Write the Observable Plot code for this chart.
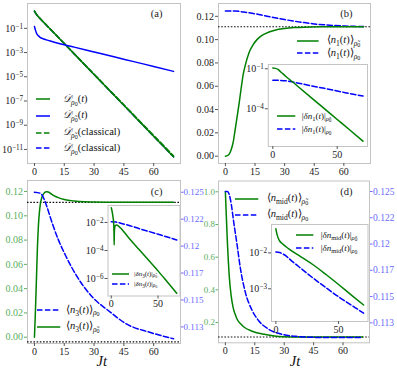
<!DOCTYPE html>
<html><head><meta charset="utf-8">
<script src="https://cdn.jsdelivr.net/npm/d3@7"></script>
<script src="https://cdn.jsdelivr.net/npm/@observablehq/plot@0.6"></script>
<style>
body{margin:0;background:#fff;}
#chart{position:relative;width:397px;height:372px;overflow:hidden;font-family:'Liberation Serif',serif;background:#fff;}
#chart svg.plt{position:absolute;left:0;top:0;}
.leg{position:absolute;white-space:nowrap;line-height:1;color:#111;display:flex;align-items:center;height:16px;}
.leg sub{font-size:0.72em;vertical-align:-0.35em;line-height:0;}
.leg sub sub{font-size:0.8em;vertical-align:-0.2em;}
.lab{position:absolute;white-space:nowrap;color:#111;line-height:1;}
</style></head><body><div id="chart"></div><script>
// ---------------- data ----------------
const xTicksMain = [0, 15, 30, 45, 60];
const xTicksInset = [0, 50];
// (a)
const tA = [0,1,2,5,10,15,20,25,30,35,40,45,50,55,60,65,70];
const dRho0 = [2.63,1.41,0.89,0.275,3.9e-2,5.5e-3,7.8e-4,1.1e-4,1.55e-5,2.2e-6,3.1e-7,4.4e-8,6.2e-9,8.7e-10,1.23e-10,1.74e-11,2.45e-12];
const dRho0Classical = [2.63,1.41,0.89,0.275,3.9e-2,5.5e-3,7.8e-4,1.1e-4,1.55e-5,2.2e-6,3.1e-7,4.4e-8,6.2e-9,8.7e-10,1.23e-10,1.74e-11,2.45e-12];
const dRhoTildeClassical = [2.63,1.41,0.89,0.275,3.9e-2,5.6e-3,8e-4,1.15e-4,1.65e-5,2.35e-6,3.4e-7,4.9e-8,7e-9,1e-9,1.45e-10,2.1e-11,3.0e-12];
const tA2 = [0,0.5,1,2,3,4,6,8,10,15,20,30,40,50,60,70];
const dRhoTilde = [0.141,0.0708,0.0417,0.024,0.0174,0.0145,0.0112,0.0089,0.0072,0.0044,0.0028,0.00112,4.5e-4,1.78e-4,7.1e-5,2.8e-5];
const yTicksA = [1e-1,1e-3,1e-5,1e-7,1e-9,1e-11];
// (b)
const tB = [0,1,2,3,4,5,6,7,8,9,10,12,14,16,18,20,25,30,35,40,50,60,70];
const n1RhoTilde = [0,0.0004,0.002,0.006,0.0125,0.0235,0.0345,0.046,0.0585,0.07,0.0775,0.089,0.0955,0.1,0.103,0.105,0.108,0.1095,0.1103,0.1107,0.111,0.1111,0.1111];
const tB2 = [0,5,8,10,15,20,25,30,35,40,45,50,55,60,65,70];
const n1Rho0 = [0.1246,0.1245,0.124,0.1235,0.1222,0.1205,0.1188,0.1172,0.1158,0.1146,0.1135,0.1127,0.1121,0.1117,0.1114,0.1112];
const yTicksB = [0,0.02,0.04,0.06,0.08,0.10,0.12];
const tBi = [0,2,4,6,8,10,15,20,30,40,50,60,70];
const dn1RhoTilde = [0.112,0.107,0.089,0.060,0.041,0.0275,0.011,0.0043,6.6e-4,1.02e-4,1.58e-5,2.45e-6,3.7e-7];
const tBi2 = [0,5,10,15,20,30,40,50,60,70];
const dn1Rho0 = [0.0138,0.0135,0.0126,0.0105,0.0083,0.0052,0.0034,0.00214,0.00138,8.9e-4];
const yTicksBi = [1e-1,1e-4];
// (c)
const tC = [0,0.5,1,1.5,2,2.5,3,3.5,4,5,6,7,8,10,12,15,20,25,30,40,50,60,70];
const n3RhoTilde = [0,0.022,0.048,0.074,0.092,0.103,0.110,0.114,0.1163,0.119,0.1198,0.1196,0.1186,0.1165,0.115,0.1135,0.1122,0.1115,0.1113,0.1111,0.1111,0.1111,0.1111];
const tC2 = [0,3,5,6,9,12,16,21,29,38,46,58,70];
const n3Rho0 = [0.125,0.1249,0.1243,0.1238,0.1221,0.1206,0.119,0.1173,0.1153,0.1139,0.1128,0.112,0.1114];
const yTicksCLeft = [0,0.02,0.04,0.06,0.08,0.10,0.12];
const yTicksRight = [0.125,0.1225,0.12,0.1175,0.115,0.1125];
const yTickLabelsRight = ["0.125","0.122","0.12","0.117","0.115","0.113"];
const tCi = [0,1,2,2.5,2.9,3.1,3.3,3.7,4.5,5.5,7,10,15,20,30,40,50,60,70];
const dn3RhoTilde = [0.112,0.056,0.02,0.01,0.0025,2.5e-4,0.002,0.0045,0.006,0.0066,0.006,0.004,0.0016,6.3e-4,1.12e-4,2e-5,3.5e-6,5.6e-7,8.9e-8];
const tCi2 = [0,5,10,20,30,40,50,60,70];
const dn3Rho0 = [0.0112,0.0107,0.0089,0.0058,0.0036,0.0023,0.00145,9.1e-4,5.6e-4];
const yTicksCi = [1e-2,1e-4,1e-6];
// (d)
const tD = [0,0.5,1,1.5,2,3,4,5,6,8,10,13,16,20,25,30,40,50,70];
const nMidRhoTilde = [1.0,0.85,0.7,0.58,0.48,0.36,0.29,0.25,0.22,0.19,0.168,0.15,0.138,0.128,0.117,0.113,0.1115,0.1112,0.1111];
const tD2 = [0,1,2,3,4.25,6,7.65,10.2,13.6,17,22,29,37,50,70];
const nMidRho0 = [0.125,0.125,0.1247,0.1238,0.1221,0.1199,0.1177,0.1154,0.1137,0.1127,0.1119,0.1114,0.1112,0.1111,0.1111];
const yTicksDLeft = [0.2,0.4,0.6,0.8,1.0];
const tDi = [0,0.5,1,2,3,5,10,20,30,40,50,60,70];
const dnMidRhoTilde = [0.0468,0.038,0.0316,0.0251,0.0214,0.0182,0.0132,0.0078,0.0046,0.0025,0.00132,6.8e-4,3.55e-4];
const tDi2 = [0,3,5,8,10,15,20,30,40,50,60,70];
const dnMidRho0 = [0.0105,0.0102,0.0095,0.0083,0.0072,0.0051,0.0037,0.00195,0.00107,6e-4,3.55e-4,2.1e-4];
const yTicksDi = [1e-2,1e-3];
const steady = [1/9];

// ---------------- styles ----------------
const W = 397, H = 372;
const GREEN = "#008000", BLUE = "#0000ff";
const GREEN_T = "#5cae5c", BLUE_T = "#6a6aff";
const DASH = "5.5,2.4";
const FRAME = "#c4c4c4", TICK = "#555", TXT = "#222";
const LW = 1.5;
const chart = document.getElementById("chart");

const series = (ts, vs) => ts.map((t, i) => ({t, v: vs[i]}));
const M = r => ({marginLeft: r[0], marginTop: r[1], marginRight: W - r[2], marginBottom: H - r[3]});
const pow = d => "10^" + Math.round(Math.log10(d));
const line = (ts, vs, color, dashed, extra = {}) =>
  Plot.line(series(ts, vs), {x: "t", y: "v", stroke: color, strokeWidth: LW, curve: "monotone-x",
    strokeDasharray: dashed ? DASH : null, ...extra});
const dotted = () => Plot.ruleY(steady, {stroke: "#111", strokeWidth: 1.1, strokeDasharray: "1.6,1.6"});
const axX = (ticks) => Plot.axisX({ticks, tickSize: 3, tickPadding: 1, label: null, stroke: TICK, fill: TXT});
const baseStyle = {background: "none", overflow: "visible", fontFamily: "'Liberation Serif', serif", fontSize: "10px", color: TXT};

function supFix(svg) {
  svg.querySelectorAll("text").forEach(t => {
    const m = /^10\^(-?\d+)$/.exec(t.textContent);
    if (m) {
      t.textContent = "10";
      const ts = document.createElementNS("http://www.w3.org/2000/svg", "tspan");
      ts.setAttribute("dy", "-0.42em");
      ts.setAttribute("font-size", "0.72em");
      ts.textContent = m[1].replace("-", "−");
      t.appendChild(ts);
    }
  });
}
function add(svg) { svg.classList.add("plt"); supFix(svg); chart.appendChild(svg); }
const label = (s, dx, dy) => Plot.text([s], {frameAnchor: "top-right", textAnchor: "end", lineAnchor: "middle", dx, dy, fontSize: 10.5, fill: TXT});

// ---------------- (a) ----------------
const rA = [27, 3, 180, 163];
add(Plot.plot({width: W, height: H, ...M(rA), style: baseStyle,
  x: {domain: [-3.5, 73.5]}, y: {type: "log", domain: [10 ** -12.16, 10 ** 1.05]},
  marks: [
    Plot.frame({stroke: FRAME}),
    axX(xTicksMain),
    Plot.axisY({ticks: yTicksA, tickFormat: pow, tickSize: 3, tickPadding: 1.5, label: null, stroke: TICK, fill: TXT}),
    line(tA, dRho0Classical, BLUE, true),
    line(tA, dRho0, GREEN, false),
    line(tA, dRhoTildeClassical, GREEN, true),
    line(tA2, dRhoTilde, BLUE, false),
    label("(a)", -18, 10)
  ]}));

// ---------------- (b) ----------------
const rB = [218, 3, 370, 163];
add(Plot.plot({width: W, height: H, ...M(rB), style: baseStyle,
  x: {domain: [-3.5, 73.5]}, y: {domain: [-0.0063, 0.131]},
  marks: [
    Plot.frame({stroke: FRAME}),
    axX(xTicksMain),
    Plot.axisY({ticks: yTicksB, tickFormat: d3.format(".2f"), tickSize: 3, tickPadding: 1.5, label: null, stroke: TICK, fill: TXT}),
    dotted(),
    line(tB2, n1Rho0, BLUE, true),
    line(tB, n1RhoTilde, GREEN, false),
    label("(b)", -18, 10)
  ]}));

// ---------------- (c) ----------------
const rC = [27, 180, 180, 343];
add(Plot.plot({width: W, height: H, ...M(rC), style: baseStyle,
  x: {domain: [-3.5, 73.5]}, y: {domain: [-0.0052, 0.1291]},
  marks: [
    Plot.frame({stroke: FRAME}),
    axX(xTicksMain),
    Plot.axisY({ticks: yTicksCLeft, tickFormat: d3.format(".2f"), tickSize: 3, tickPadding: 1.5, label: null, stroke: GREEN_T, fill: GREEN_T}),
    dotted(),
    line(tC, n3RhoTilde, GREEN, false),
    label("(c)", -18, 11)
  ]}));
add(Plot.plot({width: W, height: H, ...M(rC), style: baseStyle,
  x: {domain: [-3.5, 73.5], axis: null}, y: {domain: [0.11096, 0.12609]},
  marks: [
    Plot.axisY({anchor: "right", ticks: yTicksRight, tickFormat: (d, i) => yTickLabelsRight[i], tickSize: 2.5, tickPadding: 0.5, fontSize: 9, label: null, stroke: BLUE_T, fill: BLUE_T}),
    dotted(),
    line(tC2, n3Rho0, BLUE, true)
  ]}));

// ---------------- (d) ----------------
const rD = [218, 180.5, 369, 342.3];
add(Plot.plot({width: W, height: H, ...M(rD), style: baseStyle,
  x: {domain: [-3.5, 73.5]}, y: {domain: [0.076, 1.066]},
  marks: [
    Plot.frame({stroke: FRAME}),
    axX(xTicksMain),
    Plot.axisY({ticks: yTicksDLeft, tickFormat: d3.format(".1f"), tickSize: 2.5, tickPadding: 1, fontSize: 9, label: null, stroke: GREEN_T, fill: GREEN_T}),
    dotted(),
    line(tD, nMidRhoTilde, GREEN, false),
    label("(d)", -17, 11)
  ]}));
add(Plot.plot({width: W, height: H, ...M(rD), style: baseStyle,
  x: {domain: [-3.5, 73.5], axis: null}, y: {domain: [0.1106, 0.1260]},
  marks: [
    Plot.axisY({anchor: "right", ticks: yTicksRight, tickFormat: (d, i) => yTickLabelsRight[i], tickSize: 2.5, tickPadding: 1, fontSize: 9.5, label: null, stroke: BLUE_T, fill: BLUE_T}),
    line(tD2, nMidRho0, BLUE, true)
  ]}));

// ---------------- insets ----------------
function inset(rect, yDomLog, yTicks, greenT, greenV, blueT, blueV) {
  add(Plot.plot({width: W, height: H, ...M(rect), style: baseStyle,
    x: {domain: [-3.5, 73.5]}, y: {type: "log", domain: [10 ** yDomLog[0], 10 ** yDomLog[1]]},
    marks: [
      Plot.frame({stroke: FRAME, fill: "white"}),
      axX(xTicksInset),
      Plot.axisY({ticks: yTicks, tickFormat: pow, tickSize: 3, tickPadding: 1.5, label: null, stroke: TICK, fill: TXT}),
      line(blueT, blueV, BLUE, true),
      line(greenT, greenV, GREEN, false)
    ]}));
}
inset([267.8, 64, 367, 146], [-6.83, -0.68], yTicksBi, tBi, dn1RhoTilde, tBi2, dn1Rho0);
inset([107.5, 205, 179.5, 295.5], [-7.25, -0.79], yTicksCi, tCi, dn3RhoTilde, tCi2, dn3Rho0);
inset([271, 224, 367.5, 321], [-3.91, -1.21], yTicksDi, tDi, dnMidRhoTilde, tDi2, dnMidRho0);

// ---------------- legends ----------------
function legRow(x1, x2, tx, y, color, dashed, html, fs) {
  const d = document.createElement("div");
  d.className = "leg";
  d.style.left = x1 + "px"; d.style.top = (y - 8) + "px"; d.style.fontSize = fs + "px";
  const w = x2 - x1;
  d.innerHTML = `<svg width="${w}" height="16" style="overflow:visible;flex:none"><line x1="0" x2="${w}" y1="8" y2="8" stroke="${color}" stroke-width="${LW}" ${dashed ? `stroke-dasharray="${DASH}"` : ""}/></svg><span style="margin-left:${tx - x2}px">${html}</span>`;
  chart.appendChild(d);
}
const rt = `<i>ρ̃</i><sub>0</sub>`, r0 = `<i>ρ</i><sub>0</sub>`;
const D = `<i>𝒟</i>`;
legRow(36, 50, 63, 99.3, GREEN, false, `${D}<sub>${r0}</sub>(<i>t</i>)`, 10.5);
legRow(36, 50, 63, 115.7, BLUE, false, `${D}<sub>${rt}</sub>(<i>t</i>)`, 10.5);
legRow(36, 50, 63, 132.7, GREEN, true, `${D}<sub>${rt}</sub>(classical)`, 10.5);
legRow(36, 50, 63, 148.3, BLUE, true, `${D}<sub>${r0}</sub>(classical)`, 10.5);

legRow(296.7, 318.3, 326.7, 40.7, GREEN, false, `⟨<i>n</i><sub>1</sub>(<i>t</i>)⟩<sub>${rt}</sub>`, 10.5);
legRow(296.7, 318.3, 326.7, 53.3, BLUE, true, `⟨<i>n</i><sub>1</sub>(<i>t</i>)⟩<sub>${r0}</sub>`, 10.5);
legRow(276.7, 295, 301.7, 116, GREEN, false, `|<i>δn</i><sub>1</sub>(<i>t</i>)|<sub>${rt}</sub>`, 9);
legRow(276.7, 295, 301.7, 129, BLUE, true, `|<i>δn</i><sub>1</sub>(<i>t</i>)|<sub>${r0}</sub>`, 9);

legRow(36.7, 60, 66, 310, BLUE, true, `⟨<i>n</i><sub>3</sub>(<i>t</i>)⟩<sub>${r0}</sub>`, 10.5);
legRow(36.7, 60, 66, 326.7, GREEN, false, `⟨<i>n</i><sub>3</sub>(<i>t</i>)⟩<sub>${rt}</sub>`, 10.5);
legRow(112, 129, 134, 274, GREEN, false, `|<i>δn</i><sub>3</sub>(<i>t</i>)|<sub>${rt}</sub>`, 7);
legRow(112, 129, 134, 284, BLUE, true, `|<i>δn</i><sub>3</sub>(<i>t</i>)|<sub>${r0}</sub>`, 7);

legRow(235, 258.3, 266.7, 198.5, GREEN, false, `⟨<i>n</i><sub>mid</sub>(<i>t</i>)⟩<sub>${rt}</sub>`, 10.5);
legRow(235, 258.3, 266.7, 214.5, BLUE, true, `⟨<i>n</i><sub>mid</sub>(<i>t</i>)⟩<sub>${r0}</sub>`, 10.5);
legRow(295.7, 313, 320.7, 235, GREEN, false, `|<i>δn</i><sub>mid</sub>(<i>t</i>)|<sub>${rt}</sub>`, 9);
legRow(295.7, 313, 320.7, 248, BLUE, true, `|<i>δn</i><sub>mid</sub>(<i>t</i>)|<sub>${r0}</sub>`, 9);

// axis titles
function lab(html, cx, cy, fs) {
  const d = document.createElement("div");
  d.className = "lab"; d.style.fontSize = fs + "px";
  d.innerHTML = html; chart.appendChild(d);
  const b = d.getBoundingClientRect();
  d.style.left = (cx - b.width / 2) + "px"; d.style.top = (cy - b.height / 2) + "px";
}
lab("<i>Jt</i>", 101.7, 361, 14.5);
lab("<i>Jt</i>", 295, 361, 14.5);
</script></body></html>
